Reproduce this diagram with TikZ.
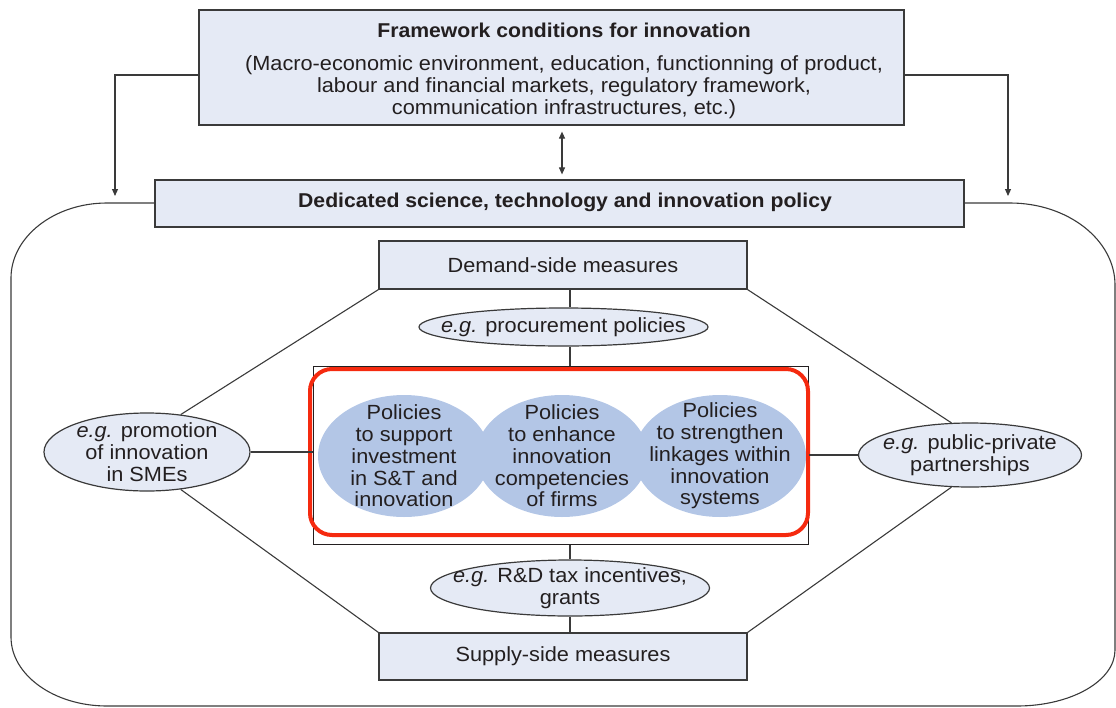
\documentclass[tikz,border=0pt]{standalone}
\usepackage{fontspec}
\setmainfont{Liberation Sans}[FakeStretch=1.06]
\usetikzlibrary{arrows.meta,shapes.geometric}
\definecolor{txt}{HTML}{231F20}
\definecolor{boxfill}{HTML}{E5EAF5}
\definecolor{blueell}{HTML}{B3C6E6}
\definecolor{linec}{HTML}{3A3A3A}
\definecolor{redc}{HTML}{F52A0F}
\begin{document}
\begin{tikzpicture}[x=1pt,y=-1pt,
  every node/.style={text=txt, font=\fontsize{20.5}{21.8}\selectfont},
  boxs/.style={draw=linec, line width=1.2pt, fill=boxfill, inner sep=0pt, align=center},
  sell/.style={ellipse, draw=linec, line width=1.2pt, fill=boxfill, inner sep=0pt},
  bell/.style={ellipse, fill=blueell, inner sep=0pt, minimum width=172pt, minimum height=122pt},
  conn/.style={draw=linec, line width=1.1pt},
  arr/.style={conn, -{Triangle[length=7pt,width=6pt]}},
  lbl/.style={align=center, inner sep=0pt},
  ttl/.style={font=\fontsize{20}{22}\selectfont\bfseries},
]
\useasboundingbox (0,0) rectangle (1116,707);

% big rounded outline
\coordinate (olstart) at (155,203);
\coordinate (olend) at (964,203);
\draw[conn] (olstart) -- (107,203) .. controls (54,203) and (11,237) .. (11,278)
  -- (11,637) .. controls (11,675) and (54,706) .. (107,706)
  -- (1017,706) .. controls (1071,706) and (1115,681) .. (1115,650)
  -- (1115,285) .. controls (1115,240) and (1068,203) .. (1010,203) -- (olend);

% top box
\node[boxs, minimum width=705pt, minimum height=115pt] (top) at (551.5,67.5) {};
\node[ttl] (toptitle) at (564,30) {Framework conditions for innovation};
\node[lbl] (toptext) at (564,87) {(Macro-economic environment, education, functionning of product,\\labour and financial markets, regulatory framework,\\communication infrastructures, etc.)};

% dedicated policy box
\node[boxs, minimum width=809pt, minimum height=47pt] (ded) at (559.5,203.5) {};
\node[ttl] (dedtext) at (565,202) {Dedicated science, technology and innovation policy};

% arrows
\coordinate (ltip) at (115,196);
\coordinate (rtip) at (1008,196);
\draw[arr] (top.west |- 0,75) -| (ltip);
\draw[arr] (top.east |- 0,75) -| (rtip);
\coordinate (ax) at (562,0);
\draw[conn, {Triangle[length=7pt,width=6pt]}-{Triangle[length=7pt,width=6pt]}] ([yshift=-6pt]top.south -| ax) -- ([yshift=5pt]ded.north -| ax);

% demand / supply boxes
\node[boxs, minimum width=368pt, minimum height=48pt] (demand) at (563,265) {Demand-side measures};
\node[boxs, minimum width=368pt, minimum height=47pt] (supply) at (563,656.5) {Supply-side measures};

% small ellipses
\node[sell, minimum width=289pt, minimum height=38pt, label={[lbl]center:{\textit{e.g.} procurement policies}}] (proc) at (563.5,327) {};
\node[sell, minimum width=279pt, minimum height=56pt, label={[lbl]center:{\textit{e.g.} R\&D tax incentives,\\grants}}] (rd) at (570,588) {};
\node[sell, minimum width=206pt, minimum height=78pt, label={[lbl]center:{\textit{e.g.} promotion\\of innovation\\in SMEs}}] (lell) at (147,452) {};
\node[sell, minimum width=223pt, minimum height=64pt, label={[lbl]center:{\textit{e.g.} public-private\\partnerships}}] (rell) at (970,455) {};

% inner box
\node[draw=txt, line width=1pt, inner sep=0pt, minimum width=495pt, minimum height=178pt] (inner) at (560.5,455) {};

% blue ellipses
\node[bell, label={[lbl]center:{Policies\\to support\\investment\\in S\&T and\\innovation}}] (b1) at (404,456) {};
\node[bell, label={[lbl]center:{Policies\\to enhance\\innovation\\competencies\\of firms}}] (b2) at (562,456) {};
\node[bell, label={[lbl]center:{Policies\\to strengthen\\linkages within\\innovation\\systems}}] (b3) at (720,456) {};

% red highlight
\node[draw=redc, line width=4pt, rounded corners=22pt, inner sep=0pt, minimum width=498pt, minimum height=166pt] (red) at (559,452) {};

% connectors
\coordinate (vx) at (570,0);
\draw[conn] (demand.south -| vx) -- (proc.north -| vx);
\draw[conn] (proc.south -| vx) -- (inner.north -| vx);
\draw[conn] (inner.south -| vx) -- (rd.north -| vx);
\draw[conn] (rd.south -| vx) -- (supply.north -| vx);
\draw[conn] (lell.east) -- (lell.east -| inner.west);
\draw[conn] (rell.west) -- (rell.west -| inner.east);
\draw[conn] (demand.south west) -- (lell.48);
\draw[conn] (demand.south east) -- (rell.120);
\draw[conn] (lell.-48) -- (supply.north west);
\draw[conn] (rell.-120) -- (supply.north east);
\end{tikzpicture}
\end{document}
